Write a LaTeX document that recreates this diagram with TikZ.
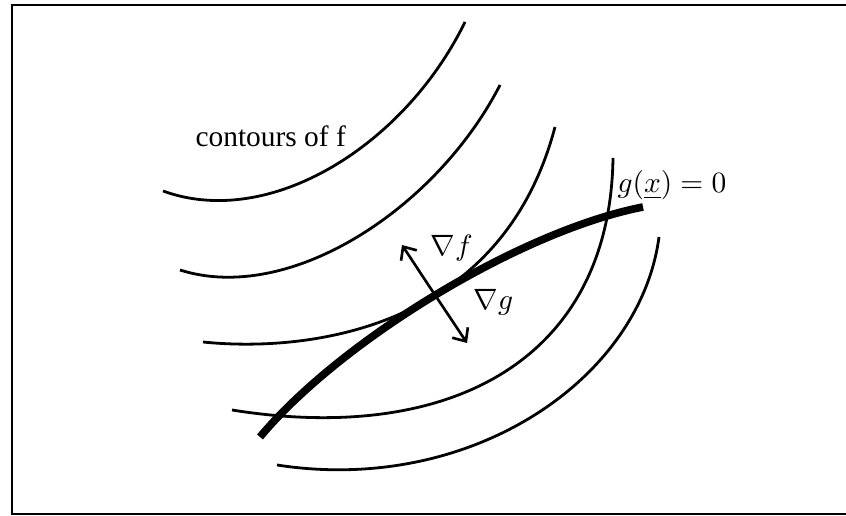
\documentclass[tikz,border=0pt]{standalone}
\usepackage{fontspec}
\setmainfont{Liberation Serif}
\usetikzlibrary{arrows.meta}

\tikzset{
    contourline/.style={line width=0.95pt},
    constraint/.style={line width=2.6pt},
    grad/.style={-{Straight Barb[length=3.6pt,width=6.4pt]}, line width=0.9pt},
    lbl/.style={inner sep=0pt, anchor=base west}
}

\begin{document}
\begin{tikzpicture}[x=0.34pt, y=-0.34pt]
        \useasboundingbox (0,0) rectangle (846,516);
        % frame, open at the right
        \draw[line width=0.7pt] (870,5) -- (12,5) -- (12,514) -- (870,514);

        % contours of f
        \draw[contourline] (163,191) .. controls (270,230) and (405,145) .. (465,22);
        \draw[contourline] (180,270) .. controls (290,305) and (437,208) .. (500,85);
        \draw[contourline] (203,342) .. controls (300,352) and (500,335) .. (555,127);
        \draw[contourline] (232,410) .. controls (450,445) and (610,360) .. (613,158);
        \draw[contourline] (277,465) .. controls (470,495) and (640,380) .. (659,237);

        % constraint g(x)=0
        \draw[constraint] (260,437) .. controls (340,341) and (520,231) .. (643,207);

        \coordinate (tang) at (433,292);
        \coordinate (fdir) at (402,245);
        \coordinate (gdir) at (467,343);
        \draw[grad] (tang) -- (fdir);
        \draw[grad] (tang) -- (gdir);

        \node[lbl] (contlabel) at (195,147) {contours of f};
        \node[lbl] (gradf) at (430,256) {$\nabla f$};
        \node[lbl] (gradg) at (473,310) {$\nabla g$};
        \node[lbl] (glabel) at (617,193) {$g(\underline{x}) = 0$};
    \end{tikzpicture}
\end{document}
